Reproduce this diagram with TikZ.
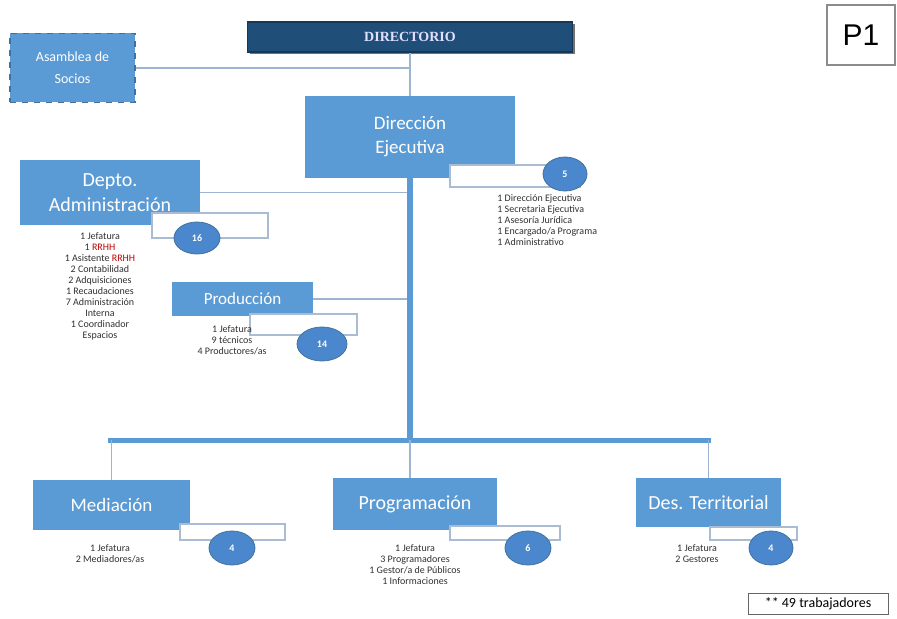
\documentclass[tikz,border=0pt]{standalone}
\usepackage{fontspec}
\setmainfont{Carlito}
\newfontfamily\serifbold{Liberation Serif}
\newfontfamily\plainsans{Liberation Sans}
\usetikzlibrary{shapes.geometric}

\definecolor{boxblue}{HTML}{5B9BD5}
\definecolor{boxline}{HTML}{41719C}
\definecolor{navy}{HTML}{1F4E79}
\definecolor{circblue}{HTML}{4A87CC}
\definecolor{tagline}{HTML}{A9BCD3}
\definecolor{linkblue}{HTML}{9DB5D3}
\definecolor{listgray}{HTML}{303030}

\tikzset{
  unit/.style={fill=boxblue,text=white,inner sep=0pt,align=center},
  tag/.style={draw=tagline,fill=white,line width=0.6pt,inner sep=0pt},
  count/.style={ellipse,fill=circblue,draw=boxline,line width=0.4pt,text=white,inner sep=0pt,font=\fontsize{5}{6}\selectfont\bfseries},
  staff/.style={anchor=north,align=center,inner sep=0pt,text=listgray,font=\fontsize{5}{5.5}\selectfont},
  link/.style={draw=linkblue,line width=0.6pt},
  trunk/.style={draw=boxblue,line width=3pt},
}

\begin{document}
\begin{tikzpicture}[x=0.5pt,y=-0.5pt]
  \useasboundingbox (0,0) rectangle (897,619);

  % top
  \node[unit,draw=boxline,dashed,line width=0.6pt,minimum width=62.5pt,minimum height=34.5pt,font=\fontsize{7}{11}\selectfont]
    (asamblea) at (72.5,68) {Asamblea de\\Socios};
  \node[fill=black!55,minimum width=162.5pt,minimum height=15pt] at (412,39) {};
  \node[fill=navy,draw=navy!70!black,line width=0.8pt,minimum width=162.5pt,minimum height=15pt,text=white!88!blue,font=\serifbold\fontsize{7}{8}\selectfont\bfseries]
    (directorio) at (410,37) {DIRECTORIO};
  \node[draw=black!45,line width=0.8pt,minimum width=34pt,minimum height=30pt,font=\plainsans\fontsize{15}{16}\selectfont]
    (pone) at (861,35) {P1};

  \node[unit,minimum width=105pt,minimum height=41pt,font=\fontsize{9.5}{12}\selectfont]
    (direccion) at (410,137) {Direcci\'on\\Ejecutiva};
  \node[tag,minimum width=65pt,minimum height=11pt] (direcciontag) at (515,176) {};
  \node[count,minimum width=22pt,minimum height=17pt] (direccionn) at (565,174) {5};
  \node[staff,anchor=north west,align=left] (direccionlist) at (497,194)
    {1 Direcci\'on Ejecutiva\\1 Secretaria Ejecutiva\\1 Asesor\'ia Jur\'idica\\1 Encargado/a Programa\\1 Administrativo};

  \coordinate (hub) at (410,440);
  \draw[link] (asamblea.east) -- (asamblea.east -| directorio.south);
  \draw[link] (directorio.south) -- (direccion.north);

  % left side
  \node[unit,minimum width=90pt,minimum height=32.5pt,font=\fontsize{10}{12.5}\selectfont]
    (depto) at (110,192.5) {Depto.\\Administraci\'on};
  \node[unit,minimum width=70.5pt,minimum height=17pt,font=\fontsize{8.5}{10}\selectfont]
    (produccion) at (242.5,299) {Producci\'on};
  \draw[link] (depto.east) -- (depto.east -| hub);
  \draw[link] (produccion.east) -- (produccion.east -| hub);
  \draw[trunk] (direccion.south) -- (hub);
  \draw[trunk,line width=2.5pt] (108,440) -- (711,440);

  \node[tag,minimum width=58pt,minimum height=12.5pt] (deptotag) at (210,225.5) {};
  \node[count,minimum width=23pt,minimum height=16pt] (depton) at (197,238) {16};
  \node[staff] (deptolist) at (100,232)
    {1 Jefatura\\1 \textcolor{red!75!black}{RRHH}\\1 Asistente \textcolor{red!75!black}{RRHH}\\2 Contabilidad\\2 Adquisiciones\\1 Recaudaciones\\7 Administraci\'on\\Interna\\1 Coordinador\\Espacios};

  \node[tag,minimum width=53.5pt,minimum height=10.5pt] (producciontag) at (303.5,324.5) {};
  \node[count,minimum width=25pt,minimum height=17pt] (produccionn) at (322,344) {14};
  \node[staff] (produccionlist) at (232,325)
    {1 Jefatura\\9 t\'ecnicos\\4 Productores/as};

  % bottom row
  \node[unit,minimum width=78.5pt,minimum height=25pt,font=\fontsize{9.5}{11}\selectfont]
    (mediacion) at (111.5,505) {Mediaci\'on};
  \node[unit,minimum width=82pt,minimum height=26pt,font=\fontsize{10}{11}\selectfont]
    (programacion) at (415,504) {Programaci\'on};
  \node[unit,minimum width=72.5pt,minimum height=24.5pt,font=\fontsize{10}{11}\selectfont]
    (territorial) at (708.5,502.5) {Des. Territorial};
  \draw[link] (mediacion.north |- hub) -- (mediacion.north);
  \draw[link] (hub) -- (hub |- programacion.north);
  \draw[link] (territorial.north |- hub) -- (territorial.north);

  \node[tag,minimum width=52.5pt,minimum height=8pt] (mediaciontag) at (232.5,532) {};
  \node[count,minimum width=23pt,minimum height=17pt] (mediacionn) at (232,548) {4};
  \node[staff] (mediacionlist) at (110,544) {1 Jefatura\\2 Mediadores/as};

  \node[tag,minimum width=55pt,minimum height=7pt] (programaciontag) at (505,533) {};
  \node[count,minimum width=23pt,minimum height=17pt] (programacionn) at (528,548) {6};
  \node[staff] (programacionlist) at (415,544)
    {1 Jefatura\\3 Programadores\\1 Gestor/a de P\'ublicos\\1 Informaciones};

  \node[tag,minimum width=43.5pt,minimum height=6.5pt] (territorialtag) at (753.5,533.5) {};
  \node[count,minimum width=22pt,minimum height=17pt] (territorialn) at (771,548) {4};
  \node[staff] (territoriallist) at (697,544) {1 Jefatura\\2 Gestores};

  \node[draw=black!60,line width=0.5pt,minimum width=70pt,minimum height=10.5pt,inner sep=0pt,font=\fontsize{7}{8}\selectfont]
    (total) at (818,603.5) {** 49 trabajadores};
\end{tikzpicture}
\end{document}
